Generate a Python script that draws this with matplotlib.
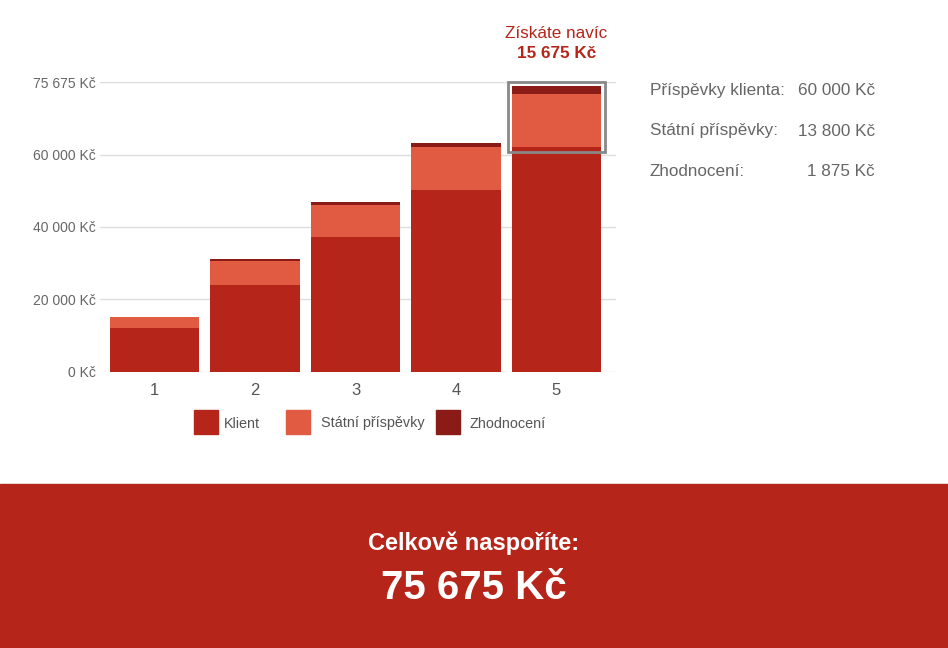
import matplotlib.pyplot as plt
from matplotlib.patches import Rectangle

plt.rcParams["font.family"] = ["Liberation Sans", "DejaVu Sans"]

W, H = 948, 648

# data
years = ["1", "2", "3", "4", "5"]
klient = [12000, 24000, 37200, 50200, 62000]
statni = [3100, 6600, 8800, 11900, 14800]
zhodnoceni = [150, 500, 900, 1100, 2100]

series_names = ["Klient", "Státní příspěvky", "Zhodnocení"]
series_colors = ["#b52519", "#e05b42", "#8a1b16"]

y_ticks = [0, 20000, 40000, 60000, 80000]
y_tick_labels = ["0 Kč", "20 000 Kč", "40 000 Kč", "60 000 Kč", "75 675 Kč"]

summary_labels = ["Příspěvky klienta:", "Státní příspěvky:", "Zhodnocení:"]
summary_values = ["60 000 Kč", "13 800 Kč", "1 875 Kč"]

extra_title = "Získáte navíc"
extra_value = "15 675 Kč"
total_title = "Celkově naspoříte:"
total_value = "75 675 Kč"


def fx(px):
    return px / W


def fy(py):
    return 1 - py / H


def main() -> None:
    fig = plt.figure(figsize=(W / 100, H / 100), dpi=100)
    fig.patch.set_facecolor("white")

    ax = fig.add_axes([fx(100), fy(371.7), fx(616) - fx(100), fy(82.3) - fy(371.7)])
    x = list(range(1, len(years) + 1))
    width = 0.886

    bottom = [0] * len(x)
    for values, name, color in zip([klient, statni, zhodnoceni], series_names, series_colors):
        ax.bar(x, values, width=width, bottom=bottom, color=color, label=name, zorder=2)
        bottom = [b + v for b, v in zip(bottom, values)]

    ax.set_xlim(0.458, 5.592)
    ax.set_ylim(0, 80000)
    ax.set_xticks(x)
    ax.set_xticklabels(years, fontsize=12, color="#555555")
    ax.set_yticks(y_ticks)
    ax.set_yticklabels(y_tick_labels, fontsize=10, color="#666666")
    ax.tick_params(axis="both", length=0)
    ax.tick_params(axis="x", pad=8)
    ax.tick_params(axis="y", pad=3)
    for spine in ax.spines.values():
        spine.set_visible(False)
    ax.grid(True, axis="y", color="#dddddd", linewidth=1, zorder=0)
    ax.set_axisbelow(True)

    # highlight box around the last bar
    margin = 0.04
    box = Rectangle(
        (x[-1] - width / 2 - margin, klient[-1] - 1200),
        width + 2 * margin,
        80000 - (klient[-1] - 1200),
        fill=False,
        edgecolor="#888888",
        linewidth=2,
        clip_on=False,
        zorder=3,
    )
    ax.add_patch(box)

    fig.text(fx(556.5), fy(38), extra_title, ha="center", va="baseline",
             fontsize=12.3, color="#b52519")
    fig.text(fx(556.5), fy(57.5), extra_value, ha="center", va="baseline",
             fontsize=12.3, fontweight="bold", color="#b52519")

    # summary on the right
    for i, (label, value) in enumerate(zip(summary_labels, summary_values)):
        base = 95 + i * 40.5
        fig.text(fx(650), fy(base), label, ha="left", va="baseline",
                 fontsize=12.3, color="#666666")
        fig.text(fx(875), fy(base), value, ha="right", va="baseline",
                 fontsize=12.3, color="#666666")

    # legend
    legend_x = [194, 286, 436]
    legend_text_x = [224, 321, 469]
    for lx, tx, name, color in zip(legend_x, legend_text_x, series_names, series_colors):
        fig.patches.append(Rectangle((fx(lx), fy(434)), fx(24), 24 / H,
                                     transform=fig.transFigure, color=color))
        fig.text(fx(tx), fy(427.5), name, ha="left", va="baseline",
                 fontsize=10.4, color="#555555")

    # bottom banner
    fig.patches.append(Rectangle((0, 0), 1, 164 / H, transform=fig.transFigure,
                                 color="#b52519", zorder=0))
    fig.text(0.5, fy(550), total_title, ha="center", va="baseline",
             fontsize=17, fontweight="bold", color="white")
    fig.text(0.5, fy(599), total_value, ha="center", va="baseline",
             fontsize=29, fontweight="bold", color="white")

    fig.savefig("out.png", dpi=100)
    plt.close(fig)


if __name__ == "__main__":
    main()
